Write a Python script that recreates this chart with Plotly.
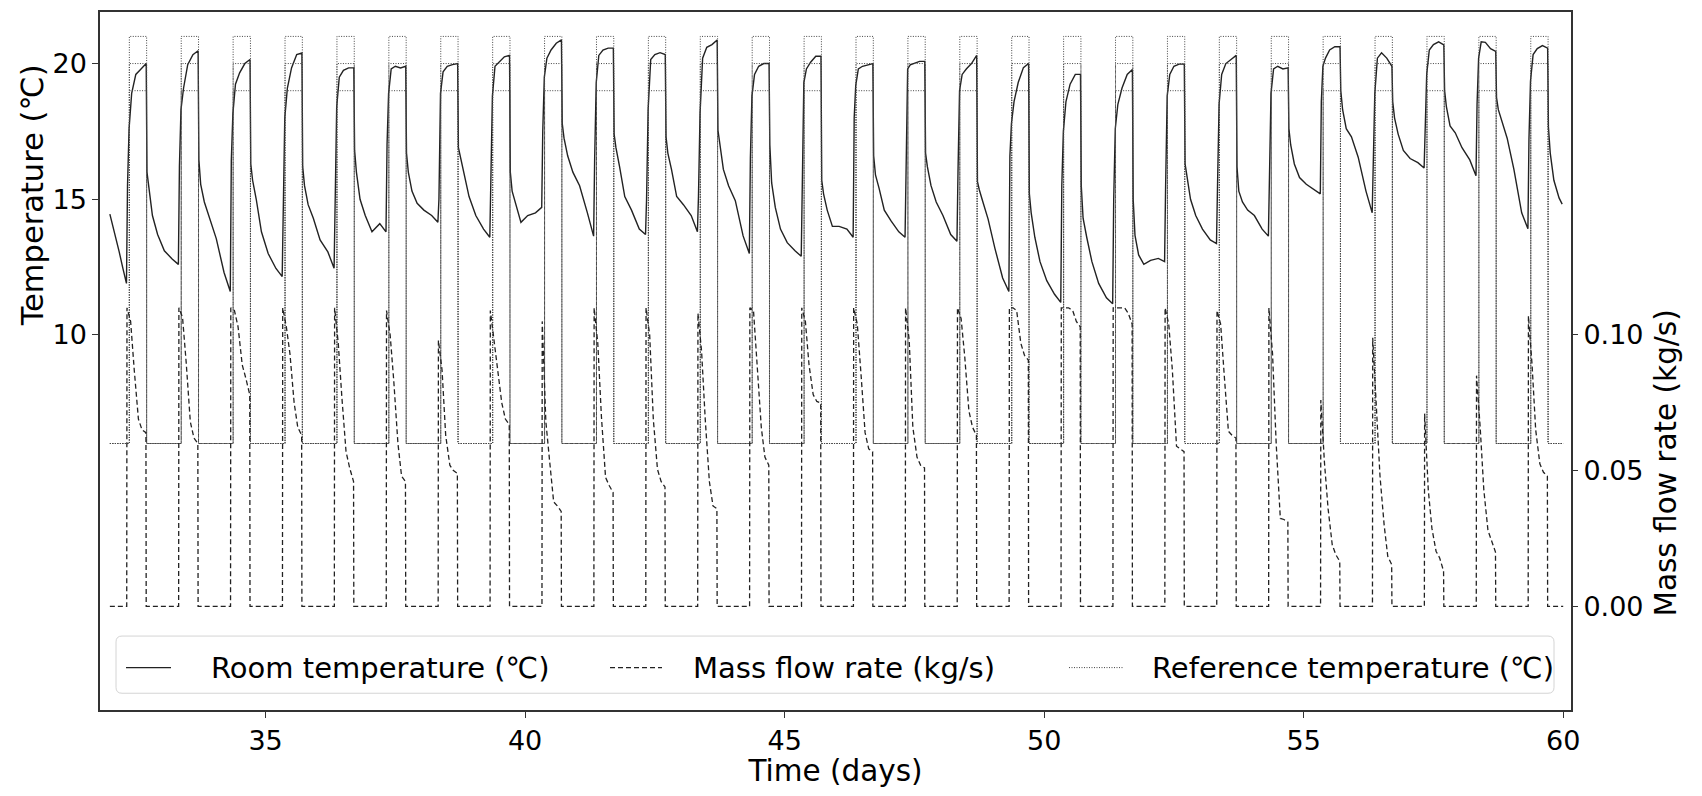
import plotly.graph_objects as go

# heating days and daily occupancy schedule
days = list(range(32, 60))
t_first = 32.0
t_last = 60.0
occ_start_h = 9
occ_end_h = 17
ref_night = 6
ref_levels = [21, 20, 19]  # upper bound / set point / lower bound

# room temperature (degC), read at these fractions of each day
temp_offsets = [0.32, 0.34, 0.37, 0.42, 0.50, 0.60, 0.70, 0.715, 0.75, 0.82, 0.92, 1.05, 1.20]
room_temp = [
    [11.9, 15.5, 17.6, 18.9, 19.6, 19.8, 20.0, 16.0, 15.4, 14.4, 13.7, 13.1, 12.8],
    [12.6, 16.2, 18.3, 19.1, 19.96, 20.33, 20.47, 16.45, 15.55, 14.9, 14.3, 13.55, 12.3],
    [11.6, 16.45, 18.15, 19.24, 19.66, 20.0, 20.15, 16.3, 15.7, 15.0, 13.8, 13.0, 12.45],
    [12.15, 15.4, 18.0, 19.1, 19.84, 20.33, 20.39, 16.2, 15.5, 14.8, 14.3, 13.5, 13.06],
    [12.46, 14.5, 18.4, 19.5, 19.75, 19.84, 19.84, 16.8, 16.0, 15.0, 14.4, 13.8, 14.1],
    [13.8, 17.0, 18.9, 19.8, 19.9, 19.84, 19.9, 16.7, 16.0, 15.3, 14.85, 14.6, 14.4],
    [14.15, 15.0, 18.9, 19.7, 19.9, 19.96, 20.0, 16.9, 16.6, 16.0, 15.1, 14.4, 13.9],
    [13.6, 15.5, 18.8, 19.9, 20.05, 20.25, 20.3, 16.0, 15.3, 14.8, 14.15, 14.4, 14.5],
    [14.7, 17.5, 19.5, 20.2, 20.5, 20.75, 20.87, 17.8, 17.25, 16.6, 16.0, 15.5, 14.5],
    [13.64, 16.5, 19.3, 20.3, 20.5, 20.57, 20.57, 17.4, 16.9, 16.2, 15.1, 14.6, 13.9],
    [13.7, 15.0, 18.3, 20.15, 20.33, 20.4, 20.33, 17.3, 16.7, 16.1, 15.1, 14.8, 14.4],
    [13.8, 15.1, 18.15, 20.2, 20.6, 20.7, 20.87, 17.55, 17.05, 16.1, 15.5, 14.95, 13.65],
    [13.0, 16.5, 18.8, 19.6, 19.9, 20.0, 20.0, 17.0, 15.6, 14.7, 13.9, 13.4, 13.1],
    [12.9, 16.0, 19.3, 19.8, 20.05, 20.27, 20.27, 15.7, 15.2, 14.6, 14.0, 14.0, 13.9],
    [13.6, 18.0, 19.2, 19.8, 19.9, 19.96, 20.0, 16.6, 15.9, 15.4, 14.6, 14.2, 13.8],
    [13.6, 16.5, 19.8, 19.95, 20.0, 20.08, 20.08, 16.7, 16.2, 15.5, 14.9, 14.4, 13.7],
    [13.45, 16.0, 19.0, 19.6, 19.8, 20.0, 20.3, 15.65, 15.35, 14.9, 14.27, 13.2, 12.1],
    [11.6, 16.6, 17.8, 18.6, 19.3, 19.85, 20.0, 15.2, 14.5, 13.6, 12.7, 12.0, 11.5],
    [11.2, 15.5, 17.5, 18.6, 19.24, 19.6, 19.6, 15.5, 14.3, 13.6, 12.7, 11.9, 11.37],
    [11.15, 15.0, 17.6, 18.5, 19.1, 19.6, 19.78, 15.0, 13.67, 12.95, 12.6, 12.75, 12.82],
    [12.7, 15.5, 18.8, 19.6, 19.9, 19.98, 19.98, 16.3, 15.9, 15.0, 14.4, 13.9, 13.5],
    [13.37, 15.5, 18.5, 19.6, 20.0, 20.15, 20.3, 16.2, 15.3, 14.9, 14.6, 14.4, 13.9],
    [13.64, 16.0, 18.9, 19.8, 19.9, 19.8, 19.84, 17.6, 17.0, 16.3, 15.8, 15.55, 15.35],
    [15.2, 18.6, 19.9, 20.2, 20.5, 20.62, 20.62, 19.0, 18.3, 17.6, 17.3, 16.55, 15.3],
    [14.5, 16.8, 18.9, 20.2, 20.4, 20.2, 19.9, 18.6, 18.0, 17.4, 16.8, 16.5, 16.35],
    [16.15, 17.9, 19.6, 20.5, 20.7, 20.8, 20.69, 19.0, 18.4, 17.7, 17.45, 16.9, 16.45],
    [15.87, 18.5, 20.2, 20.8, 20.78, 20.55, 20.45, 18.75, 18.3, 17.9, 17.25, 16.1, 14.5],
    [13.91, 17.2, 19.36, 20.33, 20.55, 20.66, 20.57, 17.66, 16.7, 15.7, 15.05],
]
lead_t = [32.0, 32.1, 32.18, 32.25]
lead_temp = [14.45, 13.7, 13.06, 12.46]
tail_t = [59.98]
tail_temp = [14.82]

# mass flow rate (kg/s): on at 0.325, off at 0.70 of each day
flow_offsets = [0.325, 0.33, 0.40, 0.47, 0.55, 0.62, 0.695, 0.70]
flow = [
    [0.110, 0.105, 0.087, 0.069, 0.065, 0.064],
    [0.110, 0.1065, 0.090, 0.068, 0.062, 0.060],
    [0.110, 0.109, 0.103, 0.089, 0.084, 0.078],
    [0.110, 0.103, 0.093, 0.075, 0.066, 0.063],
    [0.110, 0.097, 0.077, 0.057, 0.051, 0.046],
    [0.109, 0.100, 0.083, 0.060, 0.048, 0.046],
    [0.098, 0.087, 0.063, 0.052, 0.050, 0.049],
    [0.109, 0.098, 0.088, 0.075, 0.069, 0.067],
    [0.105, 0.068, 0.054, 0.0385, 0.037, 0.035],
    [0.110, 0.097, 0.070, 0.0475, 0.0445, 0.042],
    [0.110, 0.100, 0.069, 0.0505, 0.046, 0.044],
    [0.108, 0.094, 0.069, 0.046, 0.037, 0.036],
    [0.110, 0.109, 0.089, 0.066, 0.055, 0.052],
    [0.110, 0.105, 0.089, 0.078, 0.0755, 0.075],
    [0.110, 0.104, 0.086, 0.064, 0.058, 0.057],
    [0.110, 0.098, 0.066, 0.055, 0.052, 0.051],
    [0.110, 0.106, 0.092, 0.072, 0.066, 0.063],
    [0.110, 0.110, 0.109, 0.097, 0.0925, 0.0907],
    [0.110, 0.110, 0.110, 0.109, 0.105, 0.103],
    [0.110, 0.110, 0.110, 0.110, 0.108, 0.104],
    [0.110, 0.104, 0.087, 0.059, 0.058, 0.057],
    [0.109, 0.104, 0.085, 0.0645, 0.063, 0.062],
    [0.110, 0.093, 0.060, 0.0324, 0.032, 0.031],
    [0.076, 0.053, 0.036, 0.0227, 0.019, 0.0166],
    [0.099, 0.071, 0.048, 0.030, 0.0184, 0.0154],
    [0.071, 0.043, 0.0288, 0.0203, 0.0178, 0.013],
    [0.085, 0.066, 0.043, 0.028, 0.0245, 0.020],
    [0.107, 0.089, 0.065, 0.0525, 0.0494, 0.048],
]

series_names = ['Room temperature (℃)', 'Mass flow rate (kg/s)', 'Reference temperature (℃)']

# --- build series ---
t_room, y_room = list(lead_t), list(lead_temp)
for d, vals in zip(days, room_temp):
    for off, v in zip(temp_offsets, vals):
        t_room.append(d + off)
        y_room.append(v)
t_room += tail_t
y_room += tail_temp

t_flow, y_flow = [t_first], [0.0]
for d, vals in zip(days, flow):
    for off, v in zip(flow_offsets, [0.0] + vals + [0.0]):
        t_flow.append(d + off)
        y_flow.append(v)
t_flow.append(t_last)
y_flow.append(0.0)

styles = [
    dict(color='#222222', width=1.4),
    dict(color='#222222', width=1.3, dash='5px,3px'),
    dict(color='#444444', width=1, dash='1px,1.5px'),
]

fig = go.Figure()
fig.add_trace(go.Scatter(x=t_room, y=y_room, mode='lines', name=series_names[0],
                         line=styles[0], showlegend=False))
fig.add_trace(go.Scatter(x=t_flow, y=y_flow, mode='lines', name=series_names[1], yaxis='y2',
                         line=styles[1], showlegend=False))
for lvl in ref_levels:
    xs, ys = [t_first], [ref_night]
    for d in days:
        a = d + occ_start_h / 24
        b = d + occ_end_h / 24
        xs += [a, a, b, b]
        ys += [ref_night, lvl, lvl, ref_night]
    xs.append(t_last)
    ys.append(ref_night)
    fig.add_trace(go.Scatter(x=xs, y=ys, mode='lines', name=series_names[2],
                             line=styles[2], showlegend=False))

# page is offset 8px by the body margin; plot area spans x 100..1571, y 10..718 on the page
PX0, PX1, PY0, PY1 = 100, 1571, 10, 718
def px(x):
    return (x - PX0) / (PX1 - PX0)
def py(y):
    return (PY1 - y) / (PY1 - PY0)

# legend drawn by hand (matplotlib-like framed box with rounded corners)
bx0, bx1, by0, by1, r = 116, 1554, 643, 701, 6
box = (f"M {px(bx0 + r)} {py(by0)} L {px(bx1 - r)} {py(by0)} Q {px(bx1)} {py(by0)} {px(bx1)} {py(by0 + r)} "
       f"L {px(bx1)} {py(by1 - r)} Q {px(bx1)} {py(by1)} {px(bx1 - r)} {py(by1)} "
       f"L {px(bx0 + r)} {py(by1)} Q {px(bx0)} {py(by1)} {px(bx0)} {py(by1 - r)} "
       f"L {px(bx0)} {py(by0 + r)} Q {px(bx0)} {py(by0)} {px(bx0 + r)} {py(by0)} Z")
shapes = [dict(type='path', xref='paper', yref='paper', path=box,
               fillcolor='rgba(255,255,255,0.8)', line=dict(color='#d4d4d4', width=1))]
annotations = []
legend_y = 675
sample_x = [(126, 171), (610, 662), (1069, 1123)]
text_x = [209, 691, 1150]
for (s0, s1), tx, name, st in zip(sample_x, text_x, series_names, styles):
    shapes.append(dict(type='line', xref='paper', yref='paper', x0=px(s0), x1=px(s1),
                       y0=py(legend_y), y1=py(legend_y), line=st))
    annotations.append(dict(xref='paper', yref='paper', x=px(tx), y=py(legend_y), text=name,
                            showarrow=False, xanchor='left', yanchor='middle',
                            font=dict(size=29, color='black')))

title_font = dict(family='DejaVu Sans', size=29.5, color='black')
# y titles sit off-centre in the reference, so they are placed as rotated annotations
annotations.append(dict(xref='paper', yref='paper', x=px(32), y=py(196), text='Temperature (℃)',
                        textangle=-90, showarrow=False, xanchor='center', yanchor='middle',
                        font=dict(family='DejaVu Sans', size=30.5, color='black')))
annotations.append(dict(xref='paper', yref='paper', x=px(1666), y=py(468), text='Mass flow rate (kg/s)',
                        textangle=-90, showarrow=False, xanchor='center', yanchor='middle',
                        font=title_font))

axis_common = dict(showgrid=False, zeroline=False, ticks='outside', ticklen=6, tickwidth=1.2,
                   tickcolor='#333', linecolor='#333', linewidth=1.5, tickfont=dict(size=27))
fig.update_layout(
    width=1686, height=780,
    margin=dict(l=92, r=123, t=2, b=70),
    plot_bgcolor='white', paper_bgcolor='white',
    font=dict(family='DejaVu Sans', size=27, color='black'),
    showlegend=False,
    shapes=shapes,
    annotations=annotations,
    xaxis=dict(range=[31.81, 60.15], tickvals=[35, 40, 45, 50, 55, 60], showline=True, mirror=True,
               title=dict(text='Time (days)', standoff=9, font=title_font), **axis_common),
    yaxis=dict(range=[-3.82, 21.90], tickvals=[10, 15, 20], showline=True, mirror=True,
               **axis_common),
    yaxis2=dict(range=[-0.0382, 0.2190], tickvals=[0, 0.05, 0.10], tickformat='.2f', overlaying='y',
                side='right', showline=False, **axis_common),
)

fig.write_html("out.html")
